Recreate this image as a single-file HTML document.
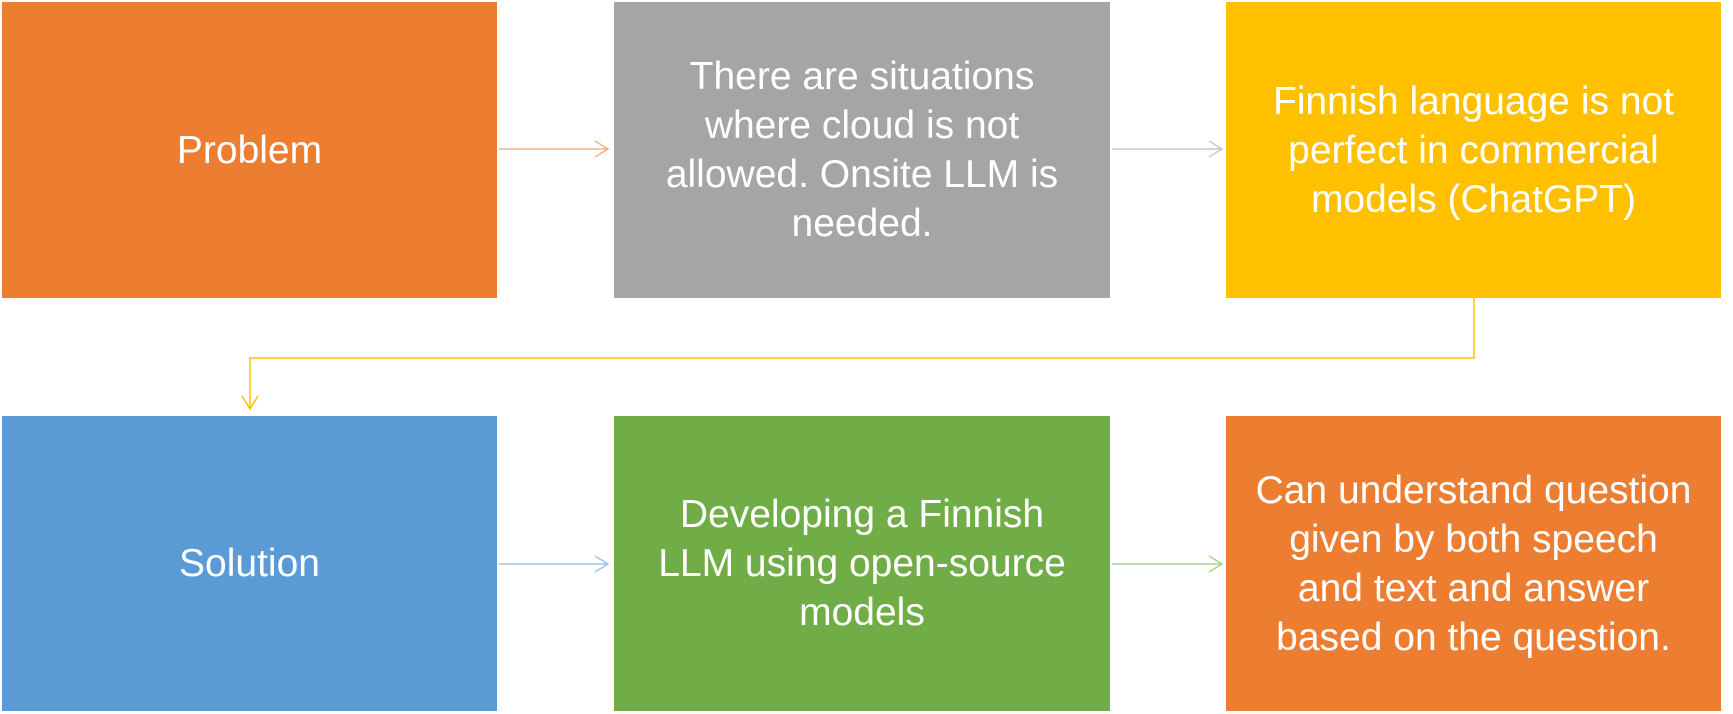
<!DOCTYPE html>
<html><head><style>
body{margin:0;width:1733px;height:714px;background:#fff;position:relative;overflow:hidden;font-family:"Liberation Sans",sans-serif}
.b{position:absolute;display:flex;align-items:center;justify-content:center;text-align:center;color:#fff;font-size:39px;line-height:49px;white-space:nowrap}
</style></head><body>
<div class="b" style="left:2px;top:2px;width:495px;height:296px;background:#ED7D31">Problem</div>
<div class="b" style="left:614px;top:2px;width:496px;height:296px;background:#A5A5A5">There are situations<br>where cloud is not<br>allowed. Onsite LLM is<br>needed.</div>
<div class="b" style="left:1226px;top:2px;width:495px;height:296px;background:#FFC000">Finnish language is not<br>perfect in commercial<br>models (ChatGPT)</div>
<div class="b" style="left:2px;top:416px;width:495px;height:295px;background:#5B9BD5">Solution</div>
<div class="b" style="left:614px;top:416px;width:496px;height:295px;background:#70AD47">Developing a Finnish<br>LLM using open-source<br>models</div>
<div class="b" style="left:1226px;top:416px;width:495px;height:295px;background:#ED7D31">Can understand question<br>given by both speech<br>and text and answer<br>based on the question.</div>
<svg width="1733" height="714" style="position:absolute;left:0;top:0" fill="none" stroke-width="1.5">
<path d="M499 149H607M595 141L608 149L595 157" stroke="#F4B183"/>
<path d="M1112 149H1221M1209 141L1222 149L1209 157" stroke="#C9C9C9"/>
<path d="M499 564H607M595 556L608 564L595 572" stroke="#9DC3E6"/>
<path d="M1112 564H1221M1209 556L1222 564L1209 572" stroke="#A9D18E"/>
<path d="M1474 298V358H250V409M242 396L250 409L258 396" stroke="#FFC000"/>
</svg>
</body></html>
